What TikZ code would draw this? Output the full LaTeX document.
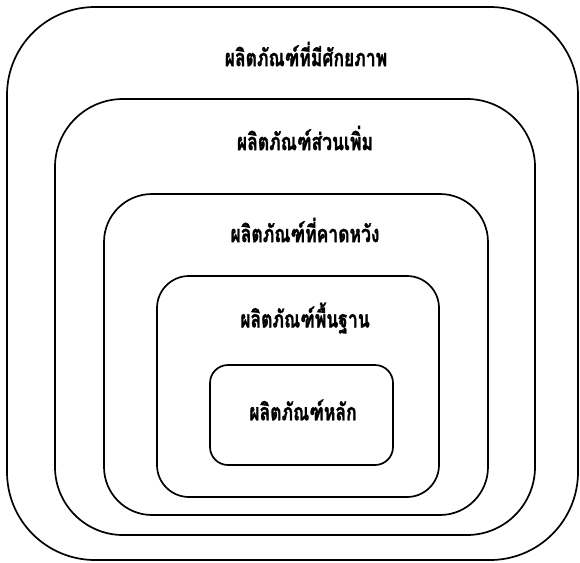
\documentclass[tikz,border=0pt]{standalone}
\usepackage{fontspec}
\usepackage{graphicx}
\newfontfamily\thaifont[Script=Thai,BoldFeatures={FakeBold=1.4}]{Loma}
\newcommand{\tallthai}[1]{\scalebox{1}[1.35]{#1}}
\begin{document}
\begin{tikzpicture}[x=1pt,y=-1pt,
  ring/.style={draw=black,line width=1.7pt,fill=none,inner sep=0pt,outer sep=0pt},
  lbl/.style={font=\thaifont\bfseries\fontsize{17.5}{20}\selectfont,inner sep=0pt,anchor=center}]
\useasboundingbox (0,0) rectangle (580,562);
\draw[ring,rounded corners=88] (7,7) rectangle (578,560);
\draw[ring,rounded corners=68] (55,99) rectangle (535,535);
\draw[ring,rounded corners=48] (104,194) rectangle (488,515);
\draw[ring,rounded corners=32] (157,276) rectangle (439,497);
\draw[ring,rounded corners=18] (210,365) rectangle (393,465);
\node[lbl] (t1) at (306,54) {\tallthai{ผลิตภัณฑ์ที่มีศักยภาพ}};
\node[lbl] (t2) at (305,138) {\tallthai{ผลิตภัณฑ์ส่วนเพิ่ม}};
\node[lbl] (t3) at (305,230) {\tallthai{ผลิตภัณฑ์ที่คาดหวัง}};
\node[lbl] (t4) at (305,318) {\tallthai{ผลิตภัณฑ์พื้นฐาน}};
\node[lbl] (t5) at (303,410) {\tallthai{ผลิตภัณฑ์หลัก}};
\end{tikzpicture}
\end{document}
